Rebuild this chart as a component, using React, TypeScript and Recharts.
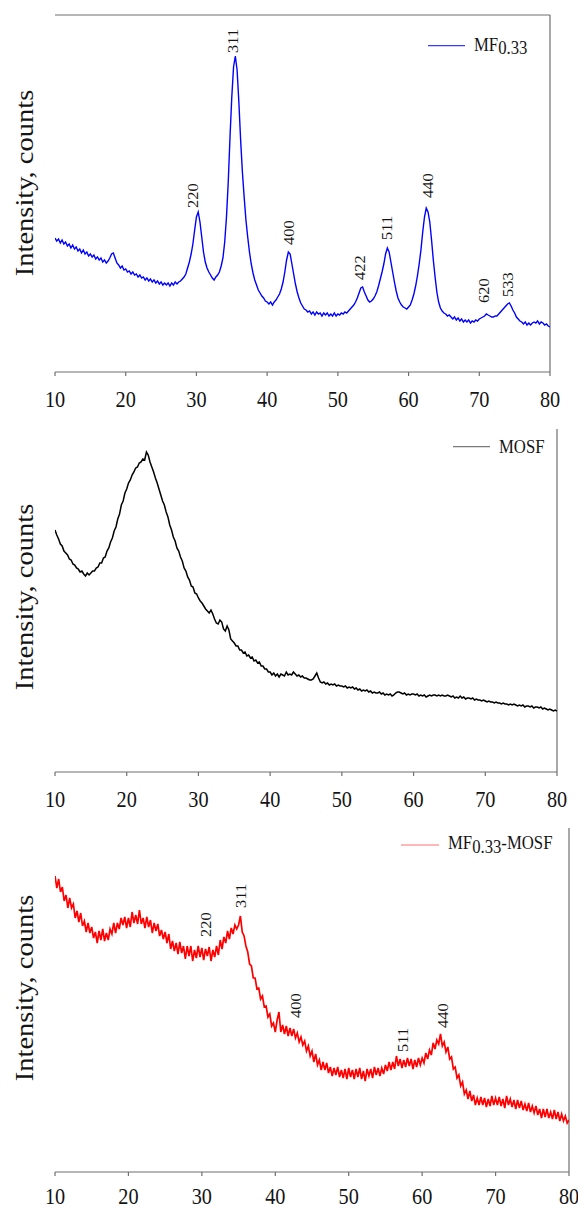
import React from 'react';
import { LineChart, Line, XAxis, YAxis, ReferenceLine, ReferenceDot, Legend } from 'recharts';

const FONT = "'Times New Roman', 'Liberation Serif', serif";
const AXIS = '#6f6f6f';
const TEXT = '#141414';
const SX = 0.88;

// 2θ axis
const xTicks = [10, 20, 30, 40, 50, 60, 70, 80];
const THETA_START = 10;
const THETA_STEP = 0.25;

// MF0.33 intensity (a.u.), 10°..80° every 0.25°
const mf033 = [
  134, 131, 133, 129, 132, 128, 130, 126, 128, 124, 127, 123, 125, 121, 123, 119, 122, 118, 120, 116,
  118, 115, 117, 113, 115, 112, 114, 110, 112, 109, 111, 114, 118, 119, 114, 109, 107, 104, 106, 102,
  103, 100, 101, 98, 100, 97, 98, 95, 97, 94, 95, 92, 94, 91, 93, 90, 92, 89, 91, 88,
  90, 87, 89, 87, 89, 86, 89, 87, 90, 88, 90, 91, 93, 95, 98, 104, 110, 118, 128, 142,
  155, 160, 150, 135, 120, 110, 104, 100, 97, 94, 92, 95, 97, 100, 106, 114, 130, 155, 190, 235,
  275, 305, 316, 302, 270, 232, 200, 175, 152, 135, 120, 108, 99, 92, 87, 82, 79, 76, 74, 71,
  70, 68, 70, 67, 70, 72, 75, 78, 83, 90, 100, 112, 120, 118, 108, 98, 88, 80, 74, 69,
  66, 63, 62, 60, 61, 58, 60, 57, 60, 58, 59, 56, 59, 57, 59, 56, 58, 56, 59, 56,
  58, 57, 59, 58, 60, 59, 61, 63, 65, 67, 70, 74, 79, 84, 85, 80, 76, 72, 70, 71,
  73, 76, 80, 86, 93, 100, 108, 118, 124, 120, 110, 100, 90, 81, 74, 70, 67, 65, 64, 63,
  65, 67, 72, 78, 86, 96, 108, 122, 140, 155, 164, 160, 150, 132, 112, 95, 80, 70, 64, 61,
  59, 58, 56, 57, 55, 53, 55, 52, 54, 51, 53, 50, 52, 50, 52, 49, 51, 50, 52, 51,
  53, 54, 55, 56, 58, 57, 56, 55, 55, 56, 56, 58, 60, 62, 64, 66, 68, 69, 66, 62,
  59, 55, 53, 51, 50, 48, 50, 47, 49, 47, 49, 50, 49, 51, 48, 50, 49, 47, 48, 46,
  45,
];

// MOSF intensity (a.u.)
const mosf = [
  242, 237, 233, 228, 226, 221, 219, 217, 213, 212, 208, 207, 204, 203, 200, 201, 198, 196, 199, 197,
  199, 201, 201, 204, 205, 209, 209, 214, 215, 221, 224, 230, 234, 241, 245, 253, 258, 267, 271, 279,
  283, 289, 292, 297, 300, 304, 305, 309, 310, 313, 312, 320, 317, 310, 305, 300, 294, 289, 283, 277,
  271, 267, 260, 255, 247, 242, 235, 231, 224, 221, 215, 211, 204, 201, 195, 192, 186, 185, 179, 178,
  174, 171, 169, 166, 163, 161, 159, 162, 158, 153, 149, 148, 152, 150, 143, 141, 146, 142, 133, 131,
  129, 126, 126, 122, 122, 119, 120, 116, 117, 114, 115, 111, 112, 109, 110, 106, 106, 103, 103, 100,
  100, 97, 99, 96, 98, 95, 98, 97, 96, 100, 97, 98, 97, 100, 98, 96, 97, 95, 96, 94,
  94, 93, 92, 92, 93, 96, 99, 94, 90, 89, 90, 88, 89, 87, 88, 87, 88, 86, 87, 86,
  86, 85, 86, 84, 85, 84, 85, 83, 84, 82, 83, 81, 82, 81, 82, 80, 81, 79, 80, 79,
  79, 80, 78, 79, 77, 78, 77, 78, 76, 77, 79, 80, 80, 79, 78, 79, 77, 78, 77, 78,
  78, 77, 78, 76, 77, 76, 77, 75, 76, 77, 76, 77, 77, 76, 77, 76, 77, 76, 76, 77,
  76, 75, 76, 74, 75, 74, 76, 74, 75, 73, 74, 74, 73, 74, 72, 73, 72, 72, 71, 72,
  71, 70, 71, 70, 70, 69, 70, 69, 69, 68, 69, 68, 68, 67, 68, 67, 68, 67, 66, 67,
  66, 67, 65, 66, 66, 65, 66, 64, 65, 65, 64, 65, 63, 64, 63, 62, 63, 62, 61, 62,
  61,
];

// MF0.33-MOSF intensity (a.u.)
const mf033Mosf = [
  296, 284, 293, 280, 285, 271, 277, 264, 274, 264, 268, 254, 261, 250, 259, 246, 251, 240, 249, 239,
  245, 234, 240, 229, 241, 232, 243, 231, 239, 232, 243, 238, 249, 239, 249, 243, 254, 247, 255, 244,
  254, 245, 260, 249, 257, 248, 262, 248, 254, 244, 255, 245, 252, 239, 249, 241, 248, 236, 242, 233,
  240, 229, 238, 223, 231, 221, 229, 218, 230, 219, 226, 213, 226, 216, 226, 211, 222, 214, 226, 215,
  224, 212, 223, 216, 225, 211, 222, 215, 226, 217, 232, 223, 235, 229, 241, 233, 244, 238, 247, 243,
  247, 256, 240, 236, 226, 220, 208, 206, 194, 194, 183, 184, 173, 176, 165, 166, 155, 158, 146, 149,
  140, 152, 160, 140, 147, 138, 146, 136, 144, 136, 143, 134, 139, 130, 135, 127, 131, 121, 126, 116,
  121, 110, 118, 107, 112, 102, 110, 102, 109, 99, 105, 96, 104, 97, 105, 95, 102, 94, 103, 93,
  104, 95, 102, 93, 103, 95, 104, 93, 101, 91, 103, 96, 103, 94, 105, 97, 104, 96, 104, 98,
  107, 101, 110, 102, 110, 103, 116, 106, 113, 104, 112, 105, 114, 106, 113, 103, 112, 105, 114, 107,
  114, 109, 119, 113, 122, 117, 129, 123, 132, 128, 138, 126, 130, 120, 125, 113, 115, 103, 105, 94,
  97, 86, 90, 78, 82, 73, 81, 71, 77, 67, 74, 67, 75, 67, 74, 65, 73, 66, 76, 67,
  74, 67, 75, 66, 73, 64, 76, 67, 73, 65, 72, 63, 72, 64, 71, 62, 68, 61, 69, 60,
  66, 59, 66, 57, 63, 54, 63, 55, 63, 54, 60, 53, 62, 53, 60, 51, 58, 51, 56, 49,
  52,
];

// Peak (hkl) annotations: label position (2θ) and label foot (a.u.)
const mfPeakHkl = ['220', '311', '400', '422', '511', '440', '620', '533'];
const mfPeakPos = [29.5, 35.2, 43.1, 53.1, 57.0, 62.7, 70.7, 74.1];
const mfPeakLabelFoot = [164, 319, 127, 92, 132, 174, 69, 75];

const compPeakHkl = ['220', '311', '400', '511', '440'];
const compPeakPos = [30.6, 35.3, 42.8, 57.4, 62.8];
const compPeakLabelFoot = [235, 264, 154, 120, 144];

const Y_TITLE = 'Intensity, counts';

const toSeries = (vals: number[]) =>
  vals.map((v, i) => ({ x: THETA_START + i * THETA_STEP, y: v }));

const toPeaks = (hkl: string[], pos: number[], foot: number[]) =>
  hkl.map((h, i) => ({ hkl: h, x: pos[i], y: foot[i] }));

const makeXTick = (dyBase: number) => (props: any) => {
  const { x, y, payload } = props;
  return (
    <text
      transform={`translate(${x},${y + dyBase}) scale(0.9,1)`}
      textAnchor="middle"
      fontFamily={FONT}
      fontSize={22.5}
      fill={TEXT}
    >
      {payload.value}
    </text>
  );
};

type LegendCfg = {
  top: number;
  left: number;
  width: number;
  color: string;
  lx1: number;
  lx2: number;
  ly: number;
  tx: number;
  ty: number;
  parts: { t: string; dy: number }[];
};

type PanelProps = {
  top: number;
  height: number;
  margin: { top: number; right: number; bottom: number; left: number };
  xAxisHeight: number;
  tickDy: number;
  values: number[];
  color: string;
  strokeWidth: number;
  yMax: number;
  peaks: { hkl: string; x: number; y: number }[];
  legend: LegendCfg;
  topBorder: boolean;
  yLabelY: number;
  name: string;
};

const Panel = (p: PanelProps) => {
  const data = toSeries(p.values);
  const legendContent = () => (
    <svg width={p.legend.width} height={30} style={{ display: 'block' }}>
      <line
        x1={p.legend.lx1}
        x2={p.legend.lx2}
        y1={p.legend.ly}
        y2={p.legend.ly}
        stroke={p.legend.color}
        strokeWidth={1.2}
      />
      <text
        transform={`translate(${p.legend.tx},${p.legend.ty}) scale(${SX},1)`}
        fontFamily={FONT}
        fontSize={19}
        fill={TEXT}
      >
        {p.legend.parts.map((pt, i) => (
          <tspan key={i} dy={pt.dy}>
            {pt.t}
          </tspan>
        ))}
      </text>
    </svg>
  );
  const XTick = makeXTick(p.tickDy);
  return (
    <div style={{ position: 'absolute', left: 0, top: p.top, width: 578, height: p.height }}>
      <LineChart width={578} height={p.height} data={data} margin={p.margin}>
        <XAxis
          dataKey="x"
          type="number"
          domain={[10, 80]}
          ticks={xTicks}
          interval={0}
          allowDataOverflow
          height={p.xAxisHeight}
          tickSize={4}
          tickMargin={2}
          tick={XTick}
          axisLine={{ stroke: AXIS, strokeWidth: 1.2 }}
          tickLine={{ stroke: AXIS, strokeWidth: 1.2 }}
        />
        <YAxis
          type="number"
          domain={[0, p.yMax]}
          allowDataOverflow
          width={0}
          tick={false}
          tickLine={false}
          axisLine={{ stroke: AXIS, strokeWidth: 1.2 }}
        />
        <ReferenceLine x={80} stroke={AXIS} strokeWidth={1.2} />
        {p.topBorder && <ReferenceLine y={p.yMax} stroke={AXIS} strokeWidth={1.2} />}
        <Line
          type="linear"
          dataKey="y"
          name={p.name}
          stroke={p.color}
          strokeWidth={p.strokeWidth}
          strokeLinejoin="miter"
          dot={false}
          activeDot={false}
          isAnimationActive={false}
        />
        {p.peaks.map((pk) => (
          <ReferenceDot
            key={pk.hkl + pk.x}
            x={pk.x}
            y={pk.y}
            r={0}
            shape={(s: any) => (
              <text
                transform={`translate(${s.cx},${s.cy}) scale(${SX},1) rotate(-90)`}
                dy="0.35em"
                textAnchor="start"
                fontFamily={FONT}
                fontSize={16.5}
                fill={TEXT}
              >
                {pk.hkl}
              </text>
            )}
          />
        ))}
        <Legend
          layout="horizontal"
          verticalAlign="middle"
          align="center"
          wrapperStyle={{ position: 'absolute', top: p.legend.top, left: p.legend.left, width: p.legend.width, height: 30 }}
          content={legendContent}
        />
      </LineChart>
      <svg
        width={50}
        height={p.height}
        style={{ position: 'absolute', left: 0, top: 0, pointerEvents: 'none' }}
      >
        <text
          transform={`translate(33,${p.yLabelY}) scale(${SX},1) rotate(-90)`}
          textAnchor="middle"
          fontFamily={FONT}
          fontSize={28.5}
          fill={TEXT}
        >
          {Y_TITLE}
        </text>
      </svg>
    </div>
  );
};

export default function App() {
  return (
    <div
      style={{
        position: 'absolute',
        left: 0,
        top: 0,
        width: 578,
        height: 1208,
        overflow: 'hidden',
        background: '#fff',
      }}
    >
      <Panel
        name="MF0.33"
        top={0}
        height={420}
        margin={{ top: 15, right: 28, bottom: 8, left: 55 }}
        xAxisHeight={40}
        tickDy={29}
        values={mf033}
        color="#0000ff"
        strokeWidth={1.4}
        yMax={357}
        peaks={toPeaks(mfPeakHkl, mfPeakPos, mfPeakLabelFoot)}
        topBorder
        yLabelY={183}
        legend={{
          top: 30,
          left: 420,
          width: 150,
          color: '#3a3aff',
          lx1: 8,
          lx2: 45,
          ly: 15.7,
          tx: 54,
          ty: 20.7,
          parts: [
            { t: 'MF', dy: 0 },
            { t: '0.33', dy: 3.7 },
          ],
        }}
      />
      <Panel
        name="MOSF"
        top={420}
        height={400}
        margin={{ top: 9, right: 21, bottom: 8, left: 55 }}
        xAxisHeight={40}
        tickDy={29}
        values={mosf}
        color="#000000"
        strokeWidth={1.5}
        yMax={343}
        peaks={[]}
        topBorder={false}
        yLabelY={177}
        legend={{
          top: 10,
          left: 445,
          width: 125,
          color: '#7a7a7a',
          lx1: 8,
          lx2: 45,
          ly: 16.7,
          tx: 54,
          ty: 22.7,
          parts: [{ t: 'MOSF', dy: 0 }],
        }}
      />
      <Panel
        name="MF0.33-MOSF"
        top={820}
        height={388}
        margin={{ top: 8, right: 9, bottom: 6, left: 55 }}
        xAxisHeight={30}
        tickDy={26}
        values={mf033Mosf}
        color="#ff0000"
        strokeWidth={1.7}
        yMax={344}
        peaks={toPeaks(compPeakHkl, compPeakPos, compPeakLabelFoot)}
        topBorder={false}
        yLabelY={168}
        legend={{
          top: 10,
          left: 393,
          width: 175,
          color: '#ff7070',
          lx1: 8,
          lx2: 46,
          ly: 15,
          tx: 55,
          ty: 19,
          parts: [
            { t: 'MF', dy: 0 },
            { t: '0.33', dy: 4 },
            { t: '-MOSF', dy: -4 },
          ],
        }}
      />
    </div>
  );
}
